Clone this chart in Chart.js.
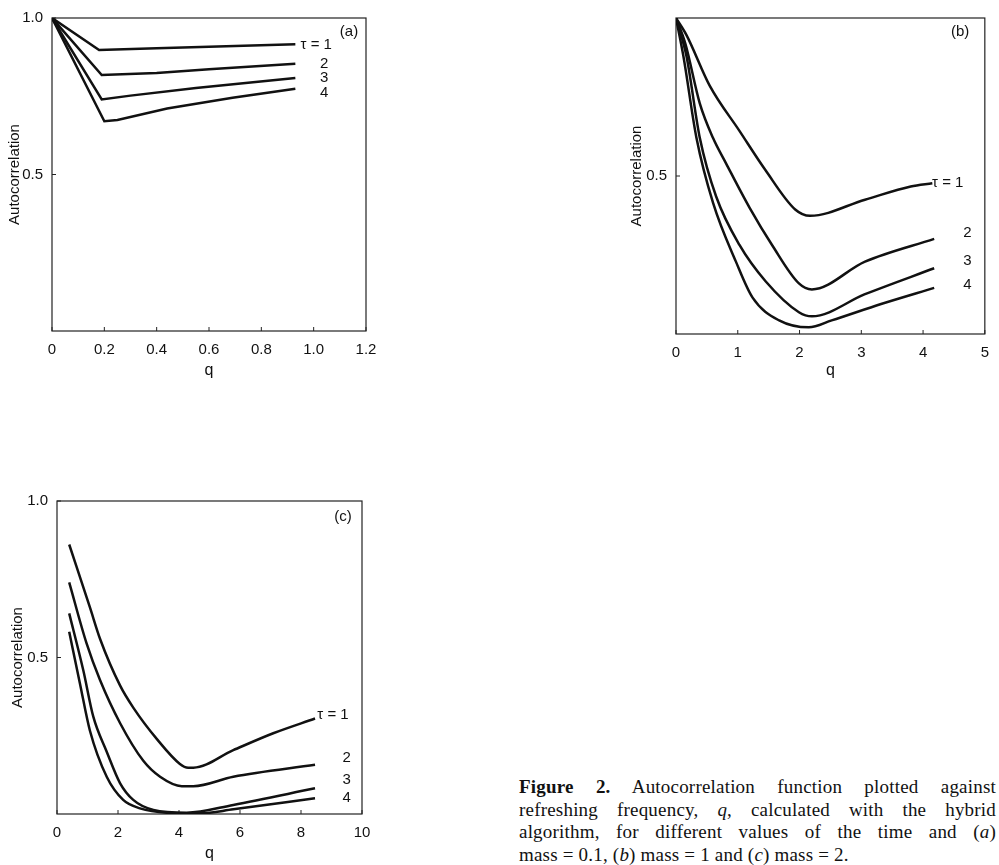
<!DOCTYPE html>
<html>
<head>
<meta charset="utf-8">
<title>Figure 2</title>
<script src="https://cdn.jsdelivr.net/npm/chart.js@4.4.0/dist/chart.umd.min.js"></script>
<style>
  body { margin: 0; background: #fff; width: 999px; height: 865px; position: relative; overflow: hidden; }
  .panel { position: absolute; }
  #caption { position: absolute; left: 519px; top: 776px; width: 477px; font: 19px "Liberation Serif", serif; letter-spacing: 0.2px; line-height: 22.5px; color: #111; }
  #caption .j { text-align: justify; text-align-last: justify; }
</style>
</head>
<body>
<div class="panel" style="left:0px;top:0px"><canvas id="chartA" width="400" height="385"></canvas></div>
<div class="panel" style="left:600px;top:0px"><canvas id="chartB" width="399" height="385"></canvas></div>
<div class="panel" style="left:0px;top:430px"><canvas id="chartC" width="400" height="435"></canvas></div>
<div id="caption">
  <div class="j"><b>Figure 2.</b> Autocorrelation function plotted against</div>
  <div class="j">refreshing frequency, <i>q</i>, calculated with the hybrid</div>
  <div class="j">algorithm, for different values of the time and (<i>a</i>)</div>
  <div>mass = 0.1, (<i>b</i>) mass = 1 and (<i>c</i>) mass = 2.</div>
</div>
<script>
// panel (a), mass = 0.1
const aQ1 = [0, 0.18, 0.4, 0.6, 0.93];
const aV1 = [1.0, 0.898, 0.903, 0.908, 0.916];
const aQ2 = [0, 0.19, 0.4, 0.6, 0.93];
const aV2 = [1.0, 0.818, 0.824, 0.836, 0.854];
const aQ3 = [0, 0.19, 0.3, 0.55, 0.93];
const aV3 = [1.0, 0.74, 0.752, 0.776, 0.808];
const aQ4 = [0, 0.2, 0.25, 0.44, 0.69, 0.93];
const aV4 = [1.0, 0.67, 0.674, 0.711, 0.745, 0.774];

// panel (b), mass = 1
const bQ1 = [0, 0.17, 0.545, 1.03, 1.45, 1.93, 2.17, 3.06, 3.8, 4.15];
const bV1 = [1.0, 0.946, 0.786, 0.642, 0.518, 0.394, 0.374, 0.425, 0.467, 0.477];
const bQ2 = [0, 0.15, 0.385, 0.6, 0.81, 1.19, 1.56, 1.99, 2.2, 3.06, 4.18];
const bV2 = [1.0, 0.92, 0.73, 0.62, 0.54, 0.4, 0.28, 0.16, 0.141, 0.229, 0.301];
const bQ3 = [0, 0.17, 0.385, 0.65, 1.03, 1.45, 1.99, 2.2, 3.06, 4.18];
const bV3 = [1.0, 0.879, 0.621, 0.435, 0.281, 0.167, 0.069, 0.056, 0.126, 0.208];
const bQ4 = [0, 0.12, 0.33, 0.6, 0.97, 1.24, 1.67, 2.15, 2.52, 3.32, 4.18];
const bV4 = [1.0, 0.879, 0.622, 0.415, 0.229, 0.115, 0.043, 0.021, 0.043, 0.095, 0.146];

// panel (c), mass = 2
const cQ1 = [0.4, 1.08, 1.41, 2.07, 2.5, 3.27, 4.03, 4.3, 4.47, 5.78, 7.09, 8.46];
const cV1 = [0.861, 0.66, 0.56, 0.41, 0.34, 0.24, 0.16, 0.148, 0.148, 0.204, 0.258, 0.305];
const cQ2 = [0.4, 0.97, 1.41, 2.07, 2.83, 3.38, 4.09, 4.47, 5.78, 8.46];
const cV2 = [0.74, 0.545, 0.428, 0.29, 0.17, 0.119, 0.089, 0.089, 0.119, 0.157];
const cQ3 = [0.4, 0.86, 1.19, 1.63, 2.07, 2.5, 3.16, 4.25, 5.78, 8.46];
const cV3 = [0.641, 0.46, 0.311, 0.199, 0.098, 0.045, 0.013, 0.004, 0.029, 0.082];
const cQ4 = [0.4, 0.75, 1.08, 1.63, 2.17, 2.72, 3.6, 4.69, 5.78, 8.46];
const cV4 = [0.582, 0.418, 0.266, 0.119, 0.045, 0.018, 0.004, 0.002, 0.015, 0.05];

// curve labels, placed in data units
const curveText = ['τ = 1', '2', '3', '4'];
const aLabelQ = [1.01, 1.04, 1.04, 1.04];
const aLabelV = [0.914, 0.855, 0.81, 0.76];
const bLabelQ = [4.4, 4.72, 4.72, 4.72];
const bLabelV = [0.477, 0.32, 0.23, 0.155];
const cLabelQ = [9.05, 9.5, 9.5, 9.5];
const cLabelV = [0.316, 0.179, 0.109, 0.051];
const panelTags = ['(a)', '(b)', '(c)'];

const yTicksA = [0.5, 1.0];
const yTicksB = [0.5];
const yTicksC = [0.5, 1.0];

const ink = '#111';

function pts(qs, vs) {
  return qs.map((q, i) => ({ x: q, y: vs[i] }));
}

// box round the plot area, with short inward ticks
const framePlugin = {
  id: 'frame',
  beforeDatasetsDraw(chart) {
    const { ctx, chartArea: a, scales: { x, y } } = chart;
    ctx.save();
    ctx.strokeStyle = '#222';
    ctx.lineWidth = 1.2;
    ctx.strokeRect(a.left, a.top, a.right - a.left, a.bottom - a.top);
    ctx.lineWidth = 1;
    ctx.beginPath();
    x.ticks.forEach(t => {
      const px = x.getPixelForValue(t.value);
      ctx.moveTo(px, a.bottom);
      ctx.lineTo(px, a.bottom - 4);
    });
    y.ticks.forEach(t => {
      const py = y.getPixelForValue(t.value);
      ctx.moveTo(a.left, py);
      ctx.lineTo(a.left + 4, py);
    });
    ctx.stroke();
    ctx.restore();
  }
};

// tau labels and the panel letter
const labelPlugin = {
  id: 'curveLabels',
  afterDraw(chart, args, opts) {
    const { ctx, scales: { x, y } } = chart;
    ctx.save();
    ctx.fillStyle = ink;
    ctx.font = '15px "Liberation Sans"';
    ctx.textAlign = 'center';
    ctx.textBaseline = 'middle';
    opts.text.forEach((t, i) => {
      ctx.fillText(t, x.getPixelForValue(opts.q[i]), y.getPixelForValue(opts.v[i]));
    });
    ctx.fillText(opts.tag, x.getPixelForValue(opts.tagQ), y.getPixelForValue(opts.tagV));
    ctx.restore();
  }
};

function makeChart(id, c) {
  const series = c.series.map(s => ({
    data: pts(s[0], s[1]),
    borderColor: ink,
    borderWidth: 2.5,
    pointRadius: 0,
    fill: false,
    tension: 0,
    cubicInterpolationMode: c.smooth ? 'monotone' : 'default'
  }));
  return new Chart(document.getElementById(id), {
    type: 'line',
    data: { datasets: series },
    plugins: [framePlugin, labelPlugin],
    options: {
      responsive: false,
      animation: false,
      devicePixelRatio: 1,
      layout: { padding: c.pad },
      plugins: {
        legend: { display: false },
        tooltip: { enabled: false },
        curveLabels: { text: curveText, q: c.labelQ, v: c.labelV, tag: c.tag, tagQ: c.tagQ, tagV: c.tagV }
      },
      scales: {
        x: {
          type: 'linear',
          min: 0,
          max: c.xMax,
          grid: { display: false, drawTicks: false },
          border: { display: false },
          ticks: {
            stepSize: c.xStep,
            padding: 10,
            color: ink,
            font: { family: 'Liberation Sans', size: 15 },
            callback: v => (v === 0 ? '0' : (c.xStep < 1 ? v.toFixed(1) : String(v)))
          },
          title: { display: true, text: 'q', color: ink, font: { family: 'Liberation Sans', size: 16 }, padding: { top: 0, bottom: c.qPad } },
          afterFit: s => { s.height = 50; }
        },
        y: {
          min: 0,
          max: 1,
          grid: { display: false, drawTicks: false },
          border: { display: false },
          afterBuildTicks: s => { s.ticks = c.yTicks.map(v => ({ value: v })); },
          ticks: {
            padding: 9,
            color: ink,
            font: { family: 'Liberation Sans', size: 15 },
            callback: v => v.toFixed(1)
          },
          title: { display: true, text: 'Autocorrelation', color: ink, font: { family: 'Liberation Sans', size: 15 }, padding: { top: 2, bottom: 0 } },
          afterFit: s => { s.width = c.yWidth; }
        }
      }
    }
  });
}

makeChart('chartA', {
  series: [[aQ1, aV1], [aQ2, aV2], [aQ3, aV3], [aQ4, aV4]],
  smooth: false,
  xMax: 1.2, xStep: 0.2, yTicks: yTicksA,
  pad: { left: 4, top: 11, right: 34, bottom: 4 },
  yWidth: 48, qPad: 1,
  labelQ: aLabelQ, labelV: aLabelV,
  tag: panelTags[0], tagQ: 1.135, tagV: 0.956
});

makeChart('chartB', {
  series: [[bQ1, bV1], [bQ2, bV2], [bQ3, bV3], [bQ4, bV4]],
  smooth: true,
  xMax: 5, xStep: 1, yTicks: yTicksB,
  pad: { left: 26, top: 11, right: 11, bottom: 1 },
  yWidth: 50, qPad: 4,
  labelQ: bLabelQ, labelV: bLabelV,
  tag: panelTags[1], tagQ: 4.6, tagV: 0.957
});

makeChart('chartC', {
  series: [[cQ1, cV1], [cQ2, cV2], [cQ3, cV3], [cQ4, cV4]],
  smooth: true,
  xMax: 10, xStep: 2, yTicks: yTicksC,
  pad: { left: 7, top: 71, right: 38, bottom: 1 },
  yWidth: 50, qPad: 1,
  labelQ: cLabelQ, labelV: cLabelV,
  tag: panelTags[2], tagQ: 9.38, tagV: 0.949
});
</script>
</body>
</html>
